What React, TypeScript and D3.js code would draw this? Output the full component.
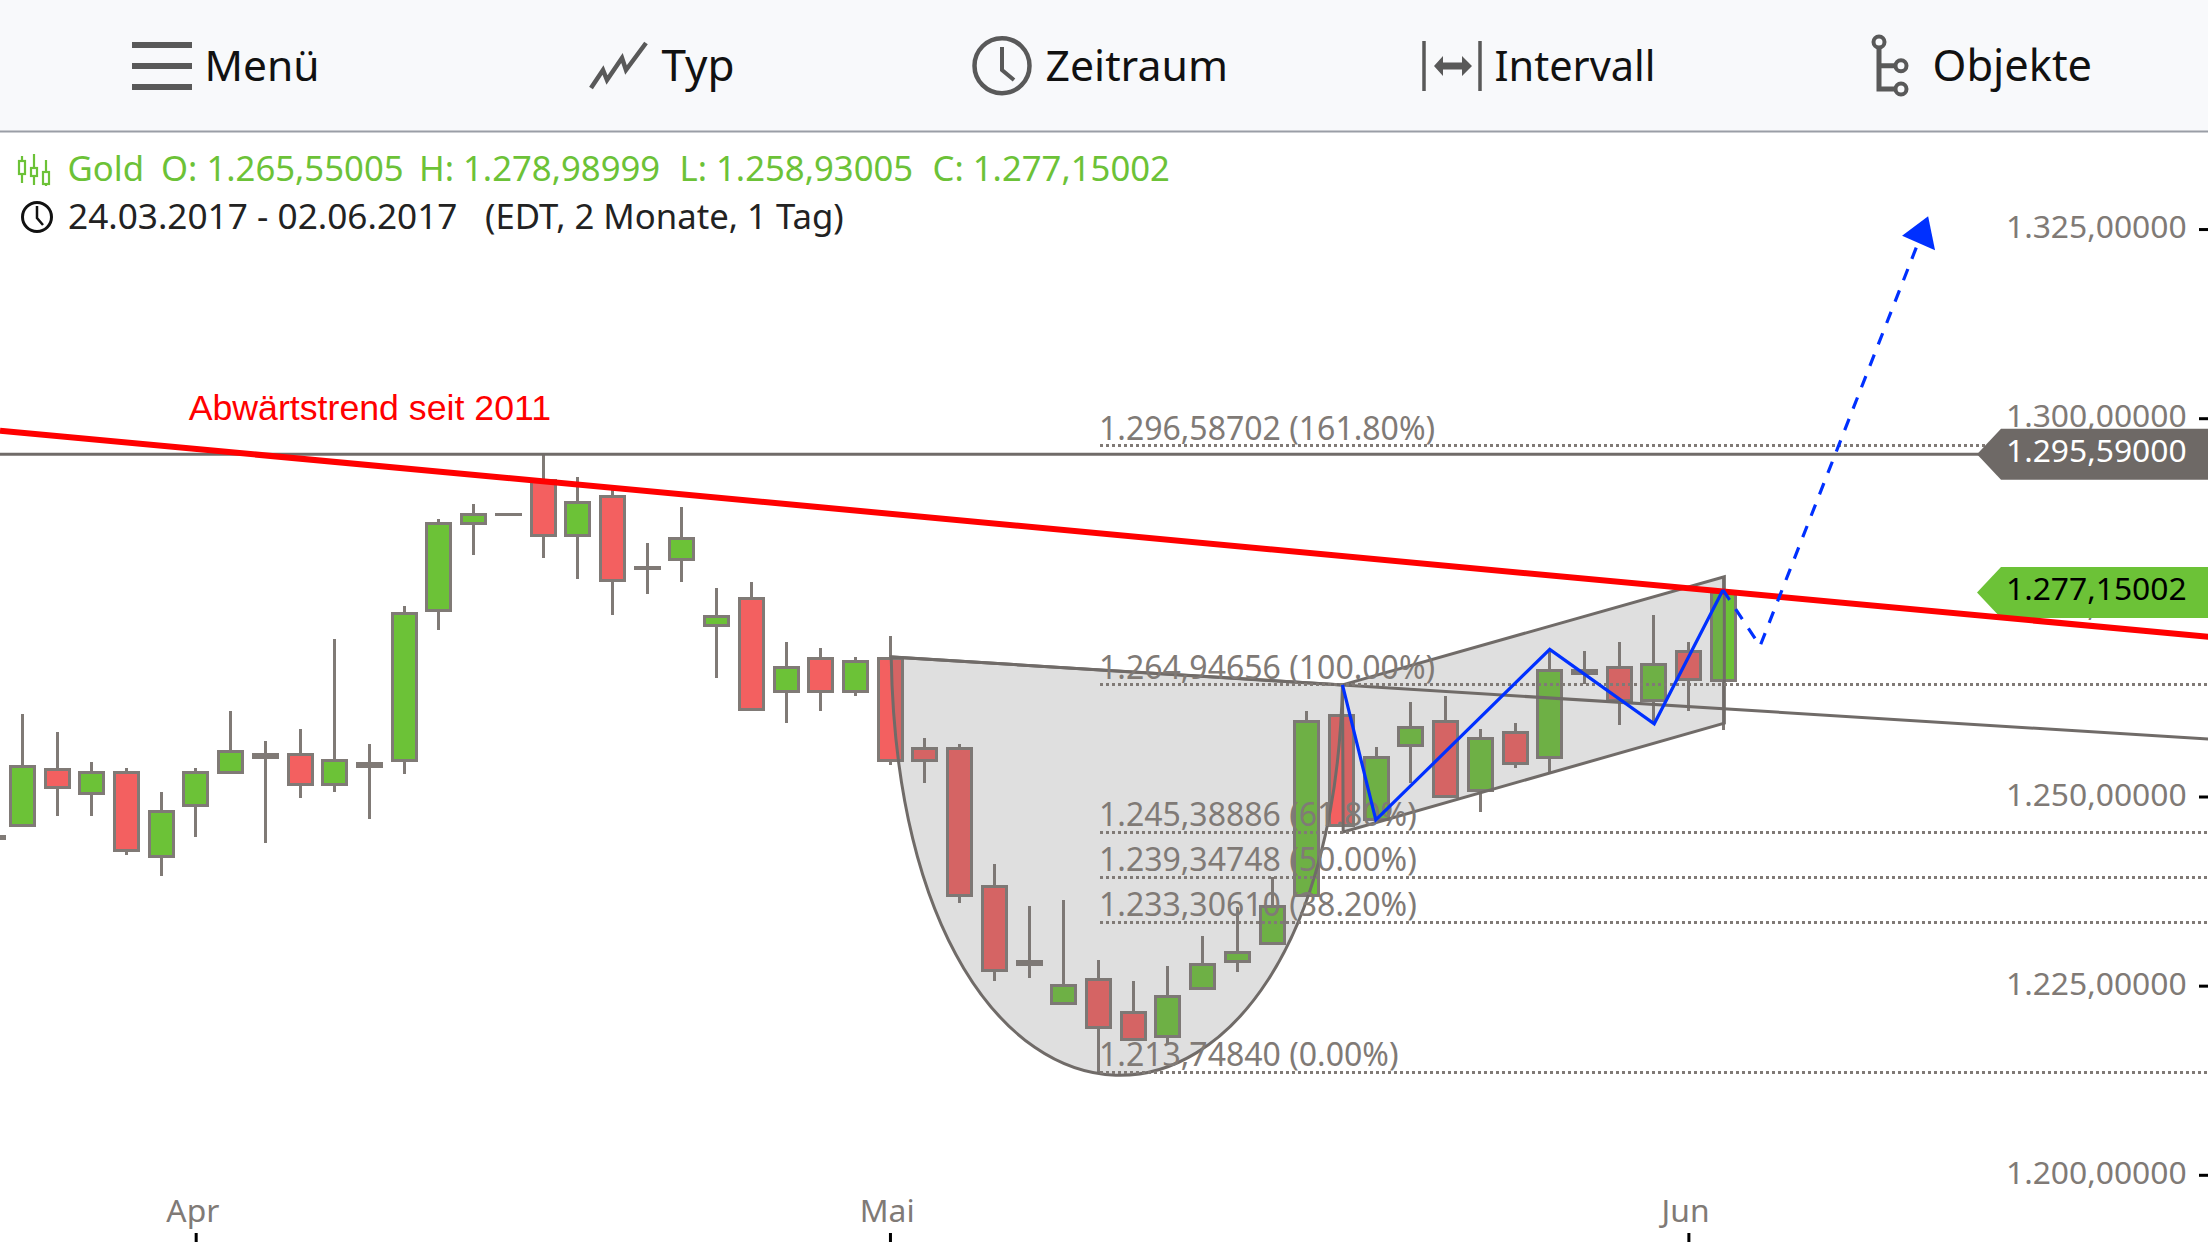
import React from "react";
import * as d3 from "d3";

const W = 2208, H = 1242;

// candle series (price units)
const opens = [1246.3,1253.8,1250.6,1253.4,1242.3,1249.0,1253.4,1255.4,1255.8,1251.8,1254.5,1255.0,1274.8,1286.3,1287.5,1292.0,1284.7,1289.9,1280.4,1281.5,1272.8,1276.4,1264.1,1268.5,1264.1,1268.5,1256.6,1256.6,1238.3,1228.0,1222.9,1226.0,1221.7,1218.5,1224.8,1228.4,1230.8,1237.1,1260.9,1247.1,1257.0,1260.1,1251.0,1258.6,1255.4,1266.5,1267.3,1262.9,1269.3,1265.55];
const highs = [1261.1,1258.7,1254.8,1254.0,1250.8,1254.0,1261.5,1257.5,1259.1,1271.0,1257.1,1275.4,1286.9,1288.9,1287.5,1295.59,1292.4,1290.7,1283.7,1288.5,1277.8,1278.5,1270.6,1269.8,1268.6,1271.4,1257.9,1257.1,1241.3,1235.7,1236.5,1228.6,1225.8,1227.8,1231.8,1235.6,1239.6,1261.5,1261.5,1256.7,1262.7,1263.5,1259.1,1259.9,1269.7,1269.4,1270.6,1274.2,1270.6,1278.98999];
const lows = [1246.3,1247.6,1247.6,1242.5,1239.7,1244.8,1253.4,1244.1,1250.0,1250.8,1247.2,1253.2,1272.2,1282.1,1287.5,1281.7,1278.9,1274.2,1277.0,1278.5,1265.9,1261.7,1259.9,1261.5,1263.5,1254.4,1252.0,1236.1,1225.8,1226.2,1222.9,1213.75,1218.1,1217.4,1224.8,1227.0,1230.8,1237.1,1246.3,1247.1,1252.0,1250.2,1248.1,1254.0,1253.4,1265.1,1259.6,1259.9,1261.5,1258.93005];
const closes = [1254.1,1251.4,1253.4,1243.1,1248.2,1253.4,1256.2,1255.7,1251.8,1255.0,1254.2,1274.4,1286.3,1287.5,1287.5,1284.7,1289.1,1278.8,1280.4,1284.3,1274.0,1261.7,1267.3,1264.1,1268.1,1255.0,1255.0,1237.1,1227.2,1228.4,1225.2,1219.7,1218.1,1223.7,1228.0,1229.6,1235.6,1260.1,1246.3,1255.3,1259.3,1250.2,1257.8,1254.6,1266.9,1266.8,1262.9,1267.7,1265.7,1277.15002];
const strayIndex = -0.85, strayOpen = 1244.6, strayClose = 1244.9;

const priceTicks = [1200, 1225, 1250, 1275, 1300, 1325];
const monthLabels = ["Apr", "Mai", "Jun"];
const monthIndex = [5, 25, 48];

// levels as they sit on the picture, and the labels printed beside them
const fibLevels = [1296.59, 1264.95, 1245.5, 1239.52, 1233.6, 1213.75];
const fibLabels = ["1.296,58702 (161.80%)", "1.264,94656 (100.00%)", "1.245,38886 (61.80%)", "1.239,34748 (50.00%)", "1.233,30610 (38.20%)", "1.213,74840 (0.00%)"];

const highLevel = 1295.42;
const highLabel = "1.295,59000";
const closeLevel = 1277.15;
const closeLabel = "1.277,15002";

// annotations as [candle index, price]
const trendLine: [number, number][] = [[-0.642, 1298.55], [62.97, 1271.3]];
const cupStart: [number, number] = [25.03, 1268.64];
const cupCtrl1: [number, number] = [25.29, 1195.55];
const cupCtrl2: [number, number] = [37.68, 1195.55];
const cupEnd: [number, number] = [38.03, 1264.95];
const neckEnd: [number, number] = [62.97, 1257.8];
const channel: [number, number][] = [[38.03, 1264.95], [49.03, 1279.25], [49.03, 1259.9], [38.05, 1245.5]];
const waves: [number, number][] = [[38.03, 1264.95], [38.99, 1247.1], [44.0, 1269.65], [47.01, 1259.8], [48.99, 1277.5]];
const forecast: [number, number][] = [[48.99, 1277.5], [50.06, 1270.1], [54.61, 1323.35]];
const arrowHead: [number, number][] = [[54.9, 1326.9], [54.15, 1324.3], [55.1, 1322.4]];

const xScale = d3.scaleLinear().domain([0, 49]).range([22.3, 1723.3]);
const yScale = d3.scaleLinear().domain([1200, 1325]).range([1176.3, 230.55]);

const GREEN = "#6CC237", RED = "#F36060", STROKE = "#807A76", LINE = "#706B68", BLUE = "#0030FF";
const SANS = "'Noto Sans', sans-serif";
const fmt = (v: number) => {
  const [a, b] = v.toFixed(5).split(".");
  return a.replace(/\B(?=(\d{3})+$)/, ".") + "," + b;
};
const px = ([i, p]: [number, number]): [number, number] => [xScale(i), yScale(p)];
const lineGen = d3.line<[number, number]>().x((d) => px(d)[0]).y((d) => px(d)[1]);

function cupPath() {
  const p = d3.path();
  const a = px(cupStart), b = px(cupCtrl1), c = px(cupCtrl2), e = px(cupEnd);
  p.moveTo(a[0], a[1]);
  p.bezierCurveTo(b[0], b[1], c[0], c[1], e[0], e[1]);
  p.closePath();
  return p.toString();
}

function Candle({ i, o, h, l, c }: { i: number; o: number; h: number; l: number; c: number }) {
  const x = Math.floor(xScale(i)) + 0.5;
  const top = yScale(Math.max(o, c)), bot = yScale(Math.min(o, c));
  return (
    <g shapeRendering="crispEdges">
      <line x1={x} x2={x} y1={yScale(h)} y2={yScale(l)} stroke={STROKE} strokeWidth={3} />
      <rect x={x - 12} y={top} width={24} height={Math.max(bot - top, 0.05)} fill={c >= o ? GREEN : RED} stroke={STROKE} strokeWidth={3} />
    </g>
  );
}

function Tag({ v, label, fill, color }: { v: number; label: string; fill: string; color: string }) {
  const y = yScale(v);
  const d = `M1977 ${y} L2001 ${y - 25.5} H${W} V${y + 25.5} H2001 Z`;
  return (
    <g>
      <path d={d} fill={fill} />
      <text x={2186.7} y={y + 7.5} textAnchor="end" fontSize={31.8} fontFamily={SANS} fill={color}>{label}</text>
    </g>
  );
}

const ICON = "#595959";
const toolbarLabels = ["Menü", "Typ", "Zeitraum", "Intervall", "Objekte"];
const toolbarX = [204.5, 661.5, 1045.5, 1494.5, 1932.5];
const toolbarSize = [42.5, 44, 42.8, 41.5, 43.4];

function Toolbar() {
  return (
    <g>
      <rect x={0} y={0} width={W} height={131} fill="#F8F9FB" />
      <rect x={0} y={130.5} width={W} height={2} fill="#9A9EA6" />
      {toolbarLabels.map((t, i) => (
        <text key={t} x={toolbarX[i]} y={81} fontSize={toolbarSize[i]} fontFamily={SANS} fill="#111">{t}</text>
      ))}
      {/* menu */}
      <path d="M132 45H192M132 66H192M132 87H192" stroke={ICON} strokeWidth={6} fill="none" />
      {/* type */}
      <path d="M591 88L603 70L607 80L622 58L626 70L646 43" stroke={ICON} strokeWidth={4.5} fill="none" />
      {/* range */}
      <circle cx={1002} cy={65.7} r={27.5} stroke={ICON} strokeWidth={4.5} fill="none" />
      <path d="M1002 47V70L1014 80" stroke={ICON} strokeWidth={4} fill="none" />
      {/* interval */}
      <path d="M1424 41V91M1480 41V91" stroke={ICON} strokeWidth={3.5} fill="none" />
      <path d="M1434 66L1443 56V62.5H1462V56L1472 66L1462 76V69.5H1443V76Z" fill={ICON} />
      {/* objects */}
      <path d="M1879 49V89H1895M1879 65.7H1895" stroke={ICON} strokeWidth={5} fill="none" />
      <circle cx={1879} cy={42} r={5.5} stroke={ICON} strokeWidth={4} fill="#F8F9FB" />
      <circle cx={1901} cy={65.7} r={5.5} stroke={ICON} strokeWidth={4} fill="#F8F9FB" />
      <circle cx={1901} cy={89} r={5.5} stroke={ICON} strokeWidth={4} fill="#F8F9FB" />
    </g>
  );
}

const headerParts = ["Gold", "O: 1.265,55005", "H: 1.278,98999", "L: 1.258,93005", "C: 1.277,15002"];
const headerX = [67.5, 161, 419, 679.5, 932.5];

function Header() {
  return (
    <g>
      {headerParts.map((t, i) => (
        <text key={t} x={headerX[i]} y={180.5} fontSize={34.7} fontFamily={SANS} fill={GREEN}>{t}</text>
      ))}
      <g stroke={GREEN} strokeWidth={2.2} fill="none">
        <path d="M22 156V183M34 154V185M46 160V186" />
        <rect x={19} y={161} width={6} height={13} fill="#fff" />
        <rect x={31} y={168} width={6} height={8} fill="#fff" />
        <rect x={43} y={172} width={6} height={12} fill="#fff" />
      </g>
      <text x={68} y={228.5} fontSize={35.2} fontFamily={SANS} fill="#222">24.03.2017 - 02.06.2017</text>
      <text x={485} y={228.5} fontSize={34.7} fontFamily={SANS} fill="#222">(EDT, 2 Monate, 1 Tag)</text>
      <circle cx={37} cy={217} r={14.5} stroke="#111" strokeWidth={3} fill="none" />
      <path d="M37 206V218L43 225" stroke="#111" strokeWidth={2.5} fill="none" />
    </g>
  );
}

export default function App() {
  const neck = px(neckEnd);
  const start = px(cupStart);
  return (
    <svg width={W} height={H} viewBox={`0 0 ${W} ${H}`} style={{ position: "fixed", left: 0, top: 0, background: "#fff" }}>
      <Toolbar />
      <Header />
      <g shapeRendering="crispEdges">
        <rect x={xScale(strayIndex) - 12} y={yScale(strayClose)} width={24} height={yScale(strayOpen) - yScale(strayClose)} fill={GREEN} stroke={STROKE} strokeWidth={3} />
      </g>
      {opens.map((o, i) => (
        <Candle key={i} i={i} o={o} h={highs[i]} l={lows[i]} c={closes[i]} />
      ))}

      {/* horizontal level */}
      <line x1={0} x2={W} y1={yScale(highLevel)} y2={yScale(highLevel)} stroke={LINE} strokeWidth={3} />

      {/* cup and channel */}
      <path d={cupPath()} fill="rgba(117,117,117,0.23)" stroke={LINE} strokeWidth={3} />
      <path d={(lineGen(channel) as string) + "Z"} fill="rgba(117,117,117,0.23)" stroke={LINE} strokeWidth={3} />
      <line x1={start[0]} y1={start[1]} x2={neck[0]} y2={neck[1]} stroke={LINE} strokeWidth={3} />

      {/* fibonacci */}
      {fibLevels.map((p, i) => (
        <g key={p}>
          <line x1={1100} x2={W} y1={yScale(p)} y2={yScale(p)} stroke={STROKE} strokeWidth={3} strokeDasharray="2.5 3.5" shapeRendering="crispEdges" />
          <text x={1099} y={yScale(p) - 5.8} fontSize={32} fontFamily={SANS} fill={STROKE}>{fibLabels[i]}</text>
        </g>
      ))}

      {/* price axis */}
      {priceTicks.map((t) => (
        <g key={t}>
          <text x={2186.7} y={yScale(t) + 7.5} textAnchor="end" fontSize={31.8} fontFamily={SANS} fill={STROKE}>{fmt(t)}</text>
          <rect x={2199} y={yScale(t) - 2.5} width={9} height={3} fill="#000" />
        </g>
      ))}

      {/* month axis */}
      {monthLabels.map((m, i) => (
        <g key={m}>
          <text x={xScale(monthIndex[i]) - 3} y={1221.5} textAnchor="middle" fontSize={31.8} fontFamily={SANS} fill={STROKE}>{m}</text>
          <rect x={xScale(monthIndex[i]) - 1.2} y={1233} width={3} height={9} fill="#000" />
        </g>
      ))}

      <Tag v={highLevel} label={highLabel} fill="#6E6966" color="#fff" />
      <Tag v={closeLevel} label={closeLabel} fill={GREEN} color="#000" />

      {/* trend line */}
      <path d={lineGen(trendLine) as string} stroke="#FF0000" strokeWidth={6} fill="none" />
      <text x={188.7} y={420} fontSize={35.7} fontFamily="'Liberation Sans', sans-serif" fill="#FF0000">Abwärtstrend seit 2011</text>

      {/* elliott waves and forecast */}
      <path d={lineGen(waves) as string} stroke={BLUE} strokeWidth={3.2} fill="none" />
      <path d={lineGen(forecast) as string} stroke={BLUE} strokeWidth={3.2} strokeDasharray="12 11" fill="none" />
      <path d={(lineGen(arrowHead) as string) + "Z"} fill={BLUE} />
    </svg>
  );
}
